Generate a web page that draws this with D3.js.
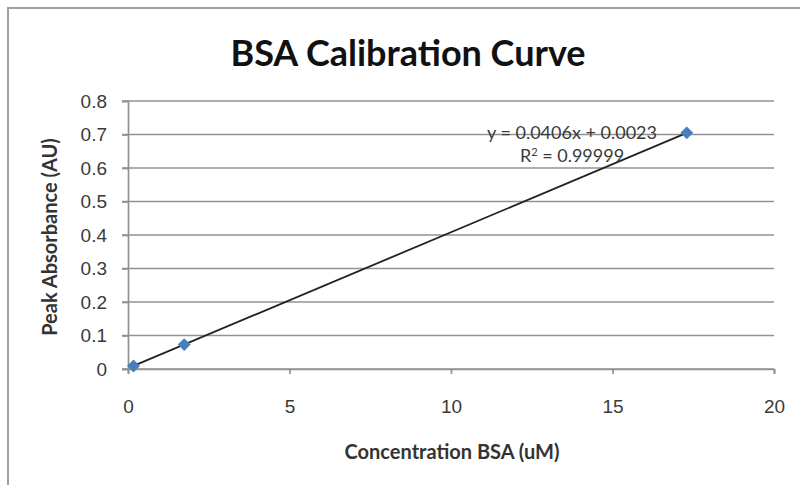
<!DOCTYPE html>
<html>
<head>
<meta charset="utf-8">
<script src="https://cdn.jsdelivr.net/npm/d3@7"></script>
<style>
  body { margin: 0; background: #fff; }
  svg { display: block; font-family: Lato, "Open Sans", sans-serif; }
</style>
</head>
<body>
<div class="chart"></div>
<script>
// data
var concentration = [0.17, 1.74, 17.3];
var absorbance = [0.009, 0.073, 0.705];
var slope = 0.0406, intercept = 0.0023;
var xTicks = [0, 5, 10, 15, 20];
var yTicks = [0, 0.1, 0.2, 0.3, 0.4, 0.5, 0.6, 0.7, 0.8];

var width = 800, height = 485;
var svg = d3.select(".chart").append("svg").attr("width", width).attr("height", height);

// chart frame
svg.append("rect")
    .attr("x", 8).attr("y", 8)
    .attr("width", 820).attr("height", 500)
    .attr("fill", "#fff")
    .attr("stroke", "#a0a0a0")
    .attr("stroke-width", 2);

var x = d3.scaleLinear().domain([0, 20]).range([128, 774]);
var y = d3.scaleLinear().domain([0, 0.8]).range([369, 101]);

// gridlines
svg.append("g")
    .selectAll("line")
    .data(yTicks)
    .enter().append("line")
    .attr("x1", x(0) - 6).attr("x2", x(20))
    .attr("y1", function(d) { return y(d); })
    .attr("y2", function(d) { return y(d); })
    .attr("stroke", "#929292")
    .attr("stroke-width", 1.7);

// y axis
var yAxis = svg.append("g")
    .attr("transform", "translate(" + x(0) + ",0)")
    .call(d3.axisLeft(y).tickValues(yTicks).tickSize(6).tickPadding(15)
        .tickFormat(function(d) { return d === 0 ? "0" : d3.format(".1f")(d); }));
yAxis.select(".domain").attr("stroke", "#929292").attr("stroke-width", 1.7);
yAxis.selectAll(".tick line").attr("stroke", "#929292").attr("stroke-width", 1.7);
yAxis.selectAll("text").attr("font-size", 19).attr("fill", "#3a3a3a");

// x axis
var xAxis = svg.append("g")
    .attr("transform", "translate(0," + y(0) + ")")
    .call(d3.axisBottom(x).tickValues(xTicks).tickSize(5).tickPadding(26));
xAxis.select(".domain").attr("stroke", "#929292").attr("stroke-width", 1.7);
xAxis.selectAll(".tick line").attr("stroke", "#929292").attr("stroke-width", 1.7);
xAxis.selectAll("text").attr("font-size", 19).attr("fill", "#3a3a3a");

// trendline
var x0 = d3.min(concentration), x1 = d3.max(concentration);
svg.append("line")
    .attr("x1", x(x0)).attr("y1", y(slope * x0 + intercept))
    .attr("x2", x(x1)).attr("y2", y(slope * x1 + intercept))
    .attr("stroke", "#222")
    .attr("stroke-width", 1.8);

// points
svg.append("g")
    .selectAll("path")
    .data(concentration)
    .enter().append("path")
    .attr("d", d3.symbol().type(d3.symbolDiamond2).size(105))
    .attr("transform", function(d, i) { return "translate(" + x(d) + "," + y(absorbance[i]) + ")"; })
    .attr("fill", "#4a7ebb");

// equation
var eq = svg.append("g").attr("font-size", 18).attr("fill", "#3a3a3a").attr("text-anchor", "middle");
eq.append("text").attr("x", 572).attr("y", 139).text("y = 0.0406x + 0.0023");
var r2 = eq.append("text").attr("x", 572).attr("y", 162);
r2.append("tspan").text("R");
r2.append("tspan").attr("dy", -6).attr("font-size", 11).text("2");
r2.append("tspan").attr("dy", 6).text(" = 0.99999");

// title
svg.append("text")
    .attr("x", 408).attr("y", 66)
    .attr("text-anchor", "middle")
    .attr("font-size", 36)
    .attr("font-weight", "bold")
    .attr("fill", "#111")
    .text("BSA Calibration Curve");

// axis titles
svg.append("text")
    .attr("x", 452).attr("y", 459)
    .attr("text-anchor", "middle")
    .attr("font-size", 20)
    .attr("font-weight", "bold")
    .attr("fill", "#333")
    .text("Concentration BSA (uM)");

svg.append("text")
    .attr("transform", "translate(57,237) rotate(-90)")
    .attr("text-anchor", "middle")
    .attr("font-size", 20)
    .attr("font-weight", "bold")
    .attr("fill", "#333")
    .text("Peak Absorbance (AU)");
</script>
</body>
</html>
